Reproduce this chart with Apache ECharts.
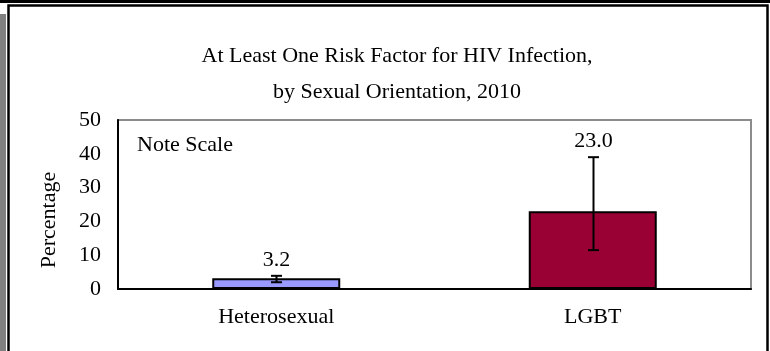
<!DOCTYPE html>
<html><head><meta charset="utf-8">
<script src="https://cdn.jsdelivr.net/npm/echarts@6/dist/echarts.min.js"></script>
<style>html,body{margin:0;padding:0;background:#fff}#c{width:770px;height:351px}</style>
</head><body><div id="c"></div>
<script>
var categories = ['Heterosexual', 'LGBT'];
var values = [3.2, 23.0];
var ciLow = [2.0, 11.5];
var ciHigh = [3.9, 39.0];
var valueLabels = ['3.2', '23.0'];
var barColors = ['#9999FF', '#990033'];
var yTicks = [0, 10, 20, 30, 40, 50];

var FONT = '"Liberation Serif", "Times New Roman", serif';
var FS = 22;
var chart = echarts.init(document.getElementById('c'));
chart.setOption({
  animation: false,
  backgroundColor: '#fff',
  title: {
    text: 'At Least One Risk Factor for HIV Infection,\nby Sexual Orientation, 2010',
    left: 392, top: 33, textAlign: 'center',
    textStyle: { fontFamily: FONT, fontWeight: 'normal', fontSize: FS, color: '#000', lineHeight: 36 }
  },
  grid: { left: 118, right: 19, top: 120, bottom: 62, show: true, borderColor: '#8c8c8c', borderWidth: 2 },
  xAxis: {
    type: 'category', data: categories,
    axisLine: { lineStyle: { color: '#000', width: 2 } },
    axisTick: { show: false },
    axisLabel: { fontFamily: FONT, fontSize: FS, color: '#000', margin: 17 }
  },
  yAxis: {
    type: 'value', min: yTicks[0], max: yTicks[yTicks.length - 1], interval: 10,
    axisLine: { show: true, lineStyle: { color: '#000', width: 2 } },
    axisTick: { show: false },
    splitLine: { show: false },
    axisLabel: { fontFamily: FONT, fontSize: FS, color: '#000', margin: 17 }
  },
  graphic: [
    { type: 'rect', shape: { x: 0, y: 0, width: 770, height: 3 }, style: { fill: '#000' } },
    { type: 'rect', shape: { x: 0, y: 14, width: 6, height: 337 }, style: { fill: '#808080' } },
    { type: 'rect', shape: { x: 8.5, y: 5.5, width: 759, height: 360 }, style: { fill: 'none', stroke: '#000', lineWidth: 2.5 } },
    { type: 'text', x: 49, y: 220, rotation: Math.PI / 2,
      style: { text: 'Percentage', font: FS + 'px ' + FONT, fill: '#000', textAlign: 'center', textVerticalAlign: 'middle' } },
    { type: 'text', x: 137, y: 145,
      style: { text: 'Note Scale', font: FS + 'px ' + FONT, fill: '#000', textAlign: 'left', textVerticalAlign: 'middle' } }
  ],
  series: [
    {
      type: 'bar', barWidth: 128,
      data: values.map(function (v, i) {
        return { value: v, itemStyle: { color: barColors[i], borderColor: '#000', borderWidth: 2 } };
      })
    },
    {
      type: 'custom',
      data: categories.map(function (c, i) { return [i, ciLow[i], ciHigh[i], values[i]]; }),
      renderItem: function (params, api) {
        var i = api.value(0);
        var lo = api.coord([i, api.value(1)]);
        var hi = api.coord([i, api.value(2)]);
        var x = Math.round(lo[0]) + 0.5;
        var hw = 5.5;
        var ls = { stroke: '#000', lineWidth: 2 };
        return {
          type: 'group',
          children: [
            { type: 'line', shape: { x1: x, y1: lo[1], x2: x, y2: hi[1] }, style: ls },
            { type: 'line', shape: { x1: x - hw, y1: lo[1], x2: x + hw, y2: lo[1] }, style: ls },
            { type: 'line', shape: { x1: x - hw, y1: hi[1], x2: x + hw, y2: hi[1] }, style: ls },
            { type: 'text', x: x, y: hi[1] - 16,
              style: { text: valueLabels[params.dataIndex], font: FS + 'px ' + FONT, fill: '#000', textAlign: 'center', textVerticalAlign: 'middle' } }
          ]
        };
      },
      z: 5
    }
  ]
});
</script></body></html>
